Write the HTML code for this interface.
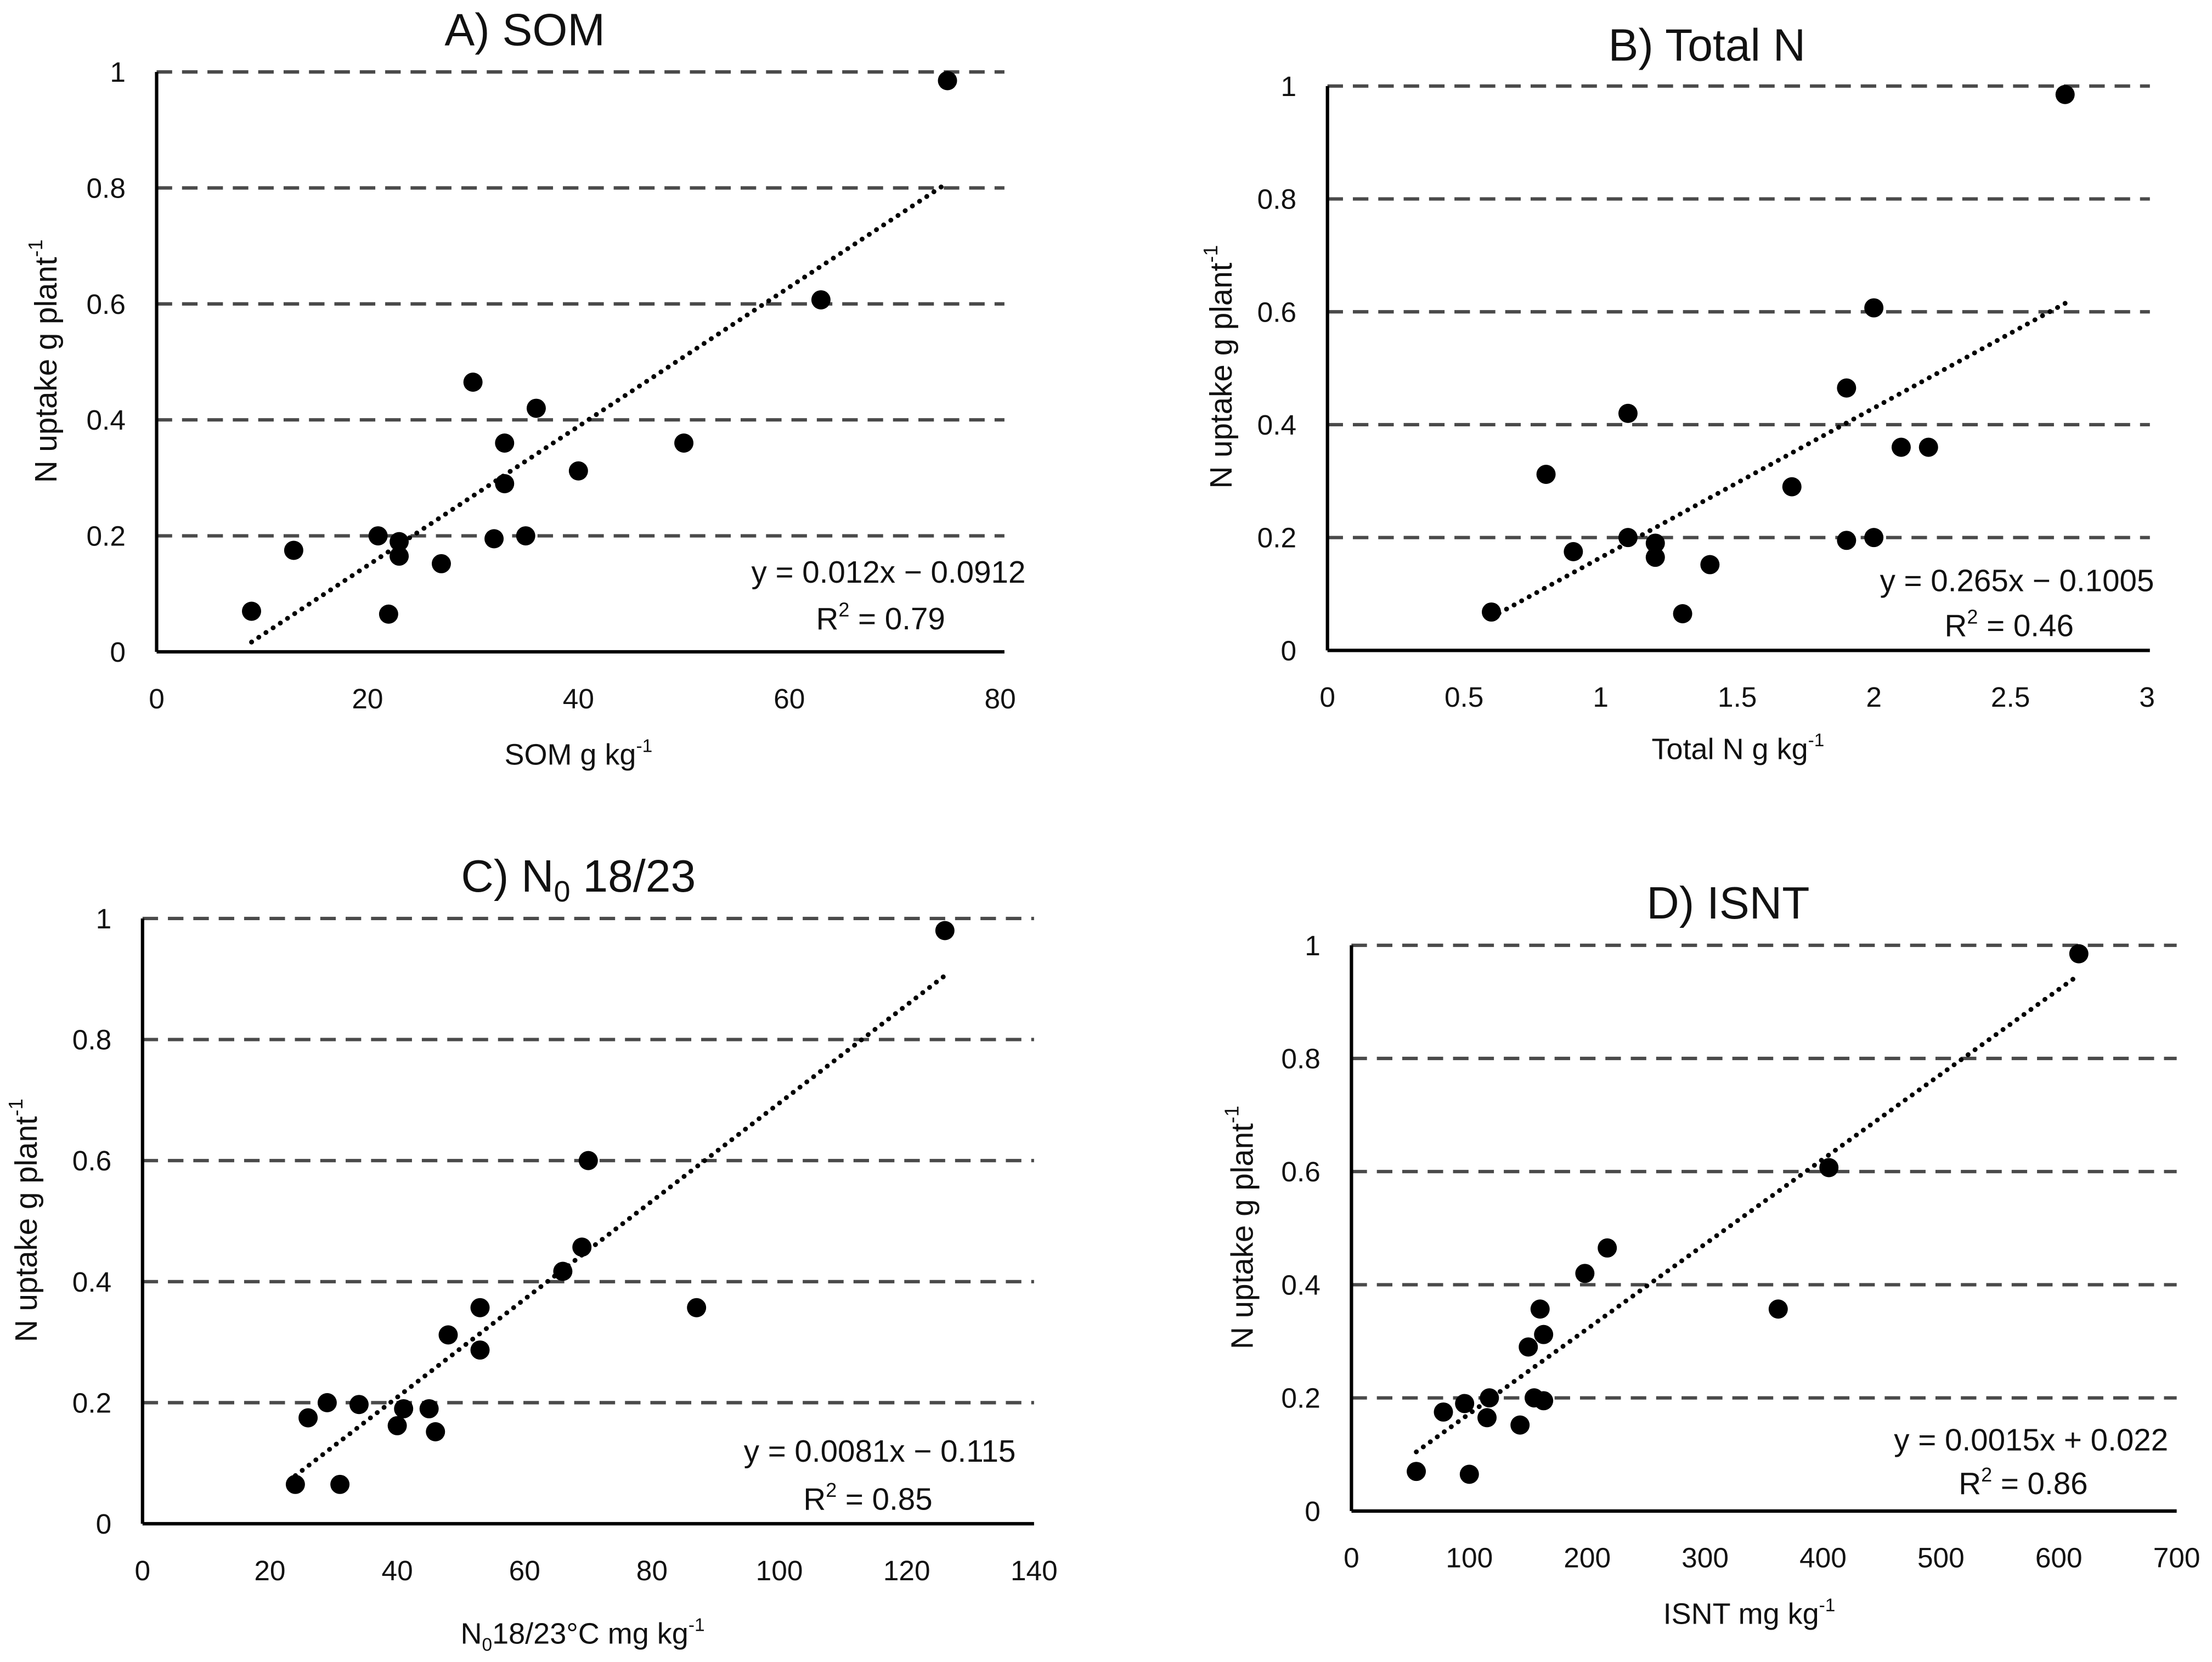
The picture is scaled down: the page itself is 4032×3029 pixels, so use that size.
<!DOCTYPE html>
<html><head><meta charset="utf-8"><style>
html,body{margin:0;padding:0;background:#fff;}
svg{display:block;}
text{font-family:"Liberation Sans Narrow","Liberation Sans",sans-serif;fill:#111;}
.yt{font-family:"Liberation Sans",sans-serif;}
</style></head><body>
<svg id="fig" width="4032" height="3029" viewBox="0 0 1568 1178" xmlns="http://www.w3.org/2000/svg"></svg>
<script>
const yTicks=[0,0.2,0.4,0.6,0.8,1];
const yTickLabels=["0","0.2","0.4","0.6","0.8","1"];
const aX=[9,13,21,22,23,23,27,30,32,33,33,35,36,40,50,63,75];
const aY=[0.07,0.175,0.2,0.065,0.19,0.165,0.152,0.465,0.195,0.36,0.29,0.2,0.42,0.312,0.36,0.607,0.985];
const aXTicks=[0,20,40,60,80];
const bX=[0.6,0.8,0.9,1.1,1.1,1.2,1.2,1.3,1.4,1.7,1.9,1.9,2.0,2.0,2.1,2.2,2.7];
const bY=[0.068,0.312,0.175,0.42,0.2,0.19,0.165,0.065,0.152,0.29,0.465,0.195,0.607,0.2,0.36,0.36,0.985];
const bXTicks=[0,0.5,1,1.5,2,2.5,3];
const cX=[24,26,29,31,34,40,41,45,46,48,53,53,66,69,70,87,126];
const cY=[0.065,0.175,0.2,0.065,0.197,0.162,0.19,0.19,0.152,0.312,0.357,0.287,0.417,0.457,0.6,0.357,0.98];
const cXTicks=[0,20,40,60,80,100,120,140];
const dX=[55,78,96,100,115,117,143,150,155,160,163,163,198,217,362,405,617];
const dY=[0.07,0.175,0.19,0.065,0.165,0.2,0.152,0.29,0.2,0.357,0.312,0.195,0.42,0.465,0.357,0.607,0.985];
const dXTicks=[0,100,200,300,400,500,600,700];
const trendA=[0.012,-0.0912], trendB=[0.265,-0.1005], trendC=[0.0081,-0.115], trendD=[0.0015,0.022];

const NS="http://www.w3.org/2000/svg";
const svg=document.getElementById('fig');
function mk(tag,attrs,parent){const e=document.createElementNS(NS,tag);for(const k in attrs)e.setAttribute(k,attrs[k]);(parent||svg).appendChild(e);return e;}

const panels=[
 {id:'a',title:'A) SOM',x0:111,x1:709,gEnd:712,y0:462,y1:51,xmax:80,xs:aX,ys:aY,xt:aXTicks,tr:trendA,tx:372,ty:32,
  xtitle:['SOM g kg','-1'],xtx:410,xty:542,ytx:40,yty:256,eq:'y = 0.012x − 0.0912',eqx:727,eqy:413,r2:'0.79',r2x:670,r2y:446},
 {id:'b',title:'B) Total N',x0:941,x1:1522,gEnd:1524,y0:461,y1:61,xmax:3,xs:bX,ys:bY,xt:bXTicks,tr:trendB,tx:1210,ty:43,
  xtitle:['Total N g kg','-1'],xtx:1232,xty:538,ytx:873,yty:260,eq:'y = 0.265x − 0.1005',eqx:1527,eqy:419,r2:'0.46',r2x:1470,r2y:451},
 {id:'c',title:'C) N',titleSub:'0',titleEnd:' 18/23',x0:101,x1:733,gEnd:733,y0:1080,y1:651,xmax:140,xs:cX,ys:cY,xt:cXTicks,tr:trendC,tx:410,ty:632,
  xtitle:['N','0','18/23°C mg kg','-1'],xtx:413,xty:1165,ytx:26,yty:865,eq:'y = 0.0081x − 0.115',eqx:720,eqy:1036,r2:'0.85',r2x:661,r2y:1070},
 {id:'d',title:'D) ISNT',x0:958,x1:1543,gEnd:1543,y0:1071,y1:670,xmax:700,xs:dX,ys:dY,xt:dXTicks,tr:trendD,tx:1225,ty:651,
  xtitle:['ISNT mg kg','-1'],xtx:1240,xty:1151,ytx:888,yty:870,eq:'y = 0.0015x + 0.022',eqx:1537,eqy:1028,r2:'0.86',r2x:1480,r2y:1059}
];

panels.forEach(p=>{
  const g=mk('g',{});
  
  
  const sx=v=>p.x0+(v/p.xmax)*(p.x1-p.x0);
  const sy=v=>p.y0+v*(p.y1-p.y0);
  const t=mk('text',{x:p.tx,y:p.ty,'text-anchor':'middle','font-size':32},g);
  
  
  if(p.titleSub){t.textContent=p.title;const s=mk('tspan',{'font-size':21,dy:7},t);s.textContent=p.titleSub;const s2=mk('tspan',{dy:-7},t);s2.textContent=p.titleEnd;}
  else t.textContent=p.title;
  yTicks.forEach((v,i)=>{
    if(v>0){const l=mk('line',{x1:p.x0,x2:p.gEnd,y1:sy(v),y2:sy(v),stroke:'#4a4a4a','stroke-width':2.4,'stroke-dasharray':'11,7'},g);
      
      }
    const tl=mk('text',{x:p.x0-22,y:sy(v)+7,'text-anchor':'end','font-size':20},g);
    
    
    tl.textContent=yTickLabels[i];
  });
  const ya=mk('line',{x1:p.x0,x2:p.x0,y1:p.y1,y2:p.y0,stroke:'#000','stroke-width':2.4},g);
  
  
  const xa=mk('line',{x1:p.x0,x2:p.gEnd,y1:p.y0,y2:p.y0,stroke:'#000','stroke-width':2.4},g);
  
  
  p.xt.forEach(v=>{
    const tl=mk('text',{x:sx(v),y:p.y0+40,'text-anchor':'middle','font-size':20},g);
    
    
    tl.textContent=String(v);
  });
  const xt=mk('text',{x:p.xtx,y:p.xty,'text-anchor':'middle','font-size':21},g);
  
  
  p.xtitle.forEach((s,i)=>{const sp=mk('tspan',{},xt);sp.textContent=s;
    if(i%2==1){sp.setAttribute('font-size',13);sp.setAttribute('dy',s==='0'?5:-9);}
    else if(i>0){sp.setAttribute('dy',p.xtitle[i-1]==='0'?-5:9);}});
  const yt=mk('text',{x:0,y:0,'text-anchor':'middle','font-size':22,class:'yt',transform:`translate(${p.ytx},${p.yty}) rotate(-90)`},g);
  
  
  yt.textContent='N uptake g plant';
  const ys=mk('tspan',{'font-size':14,dy:-10},yt);ys.textContent='-1';
  const xmin=Math.min(...p.xs), xmx=Math.max(...p.xs);
  const tl=mk('line',{x1:sx(xmin),y1:sy(p.tr[0]*xmin+p.tr[1]),x2:sx(xmx),y2:sy(p.tr[0]*xmx+p.tr[1]),stroke:'#000','stroke-width':3.4,'stroke-dasharray':'0.1,6','stroke-linecap':'round'},g);
  
  
  p.xs.forEach((x,i)=>{
    const c=mk('circle',{cx:sx(x),cy:sy(p.ys[i]),r:6.8,fill:'#000'},g);
    
    
  });
  const eq=mk('text',{x:p.eqx,y:p.eqy,'text-anchor':'end','font-size':22},g);
  
  
  eq.textContent=p.eq;
  const r2=mk('text',{x:p.r2x,y:p.r2y,'text-anchor':'end','font-size':22},g);
  
  
  r2.textContent='R';
  const rs=mk('tspan',{'font-size':14,dy:-9},r2);rs.textContent='2';
  const rr=mk('tspan',{dy:9},r2);rr.textContent=' = '+p.r2;
});
</script>
</body></html>
